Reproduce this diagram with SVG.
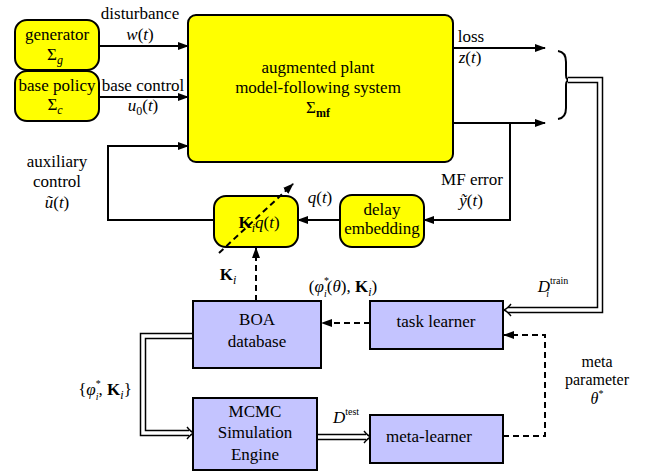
<svg xmlns="http://www.w3.org/2000/svg" width="650" height="472" viewBox="0 0 650 472">
  <defs>
    <marker id="arr" markerUnits="userSpaceOnUse" markerWidth="11" markerHeight="8" refX="10" refY="4" orient="auto">
      <path d="M0,0 L11,4 L0,8 z" fill="#000"/>
    </marker>
  </defs>

  <!-- signal and data connectors -->
  <g id="connectors" fill="none" stroke="#000" stroke-width="2">
    <g marker-end="url(#arr)">
      <line x1="99" y1="46" x2="188" y2="46"/>
      <line x1="99" y1="97" x2="188" y2="97"/>
      <polyline points="214,220 108,220 108,146 188,146"/>
      <line x1="453" y1="48" x2="545" y2="48"/>
      <line x1="453" y1="123" x2="545" y2="123"/>
      <polyline points="510,123 510,220 424,220"/>
      <line x1="340" y1="220" x2="298" y2="220"/>
    </g>
    <!-- brace collecting the plant outputs -->
    <path d="M558,51 Q566,52 566,62 L566,75 Q566,80 570,80 Q566,80 566,85 L566,108 Q566,118 558,119"/>
    <!-- dashed parameter links -->
    <g stroke-dasharray="6 4" marker-end="url(#arr)">
      <line x1="256" y1="301" x2="256" y2="248"/>
      <line x1="370" y1="323" x2="322" y2="323"/>
      <polyline points="503,436 545,436 545,335 504,335"/>
    </g>
    <!-- double data lines: black outline, white core -->
    <g stroke-width="6.5">
      <polyline points="568,80 600,80 600,310 508,310"/>
      <polyline points="193,336 143,336 143,433 189,433"/>
      <line x1="317" y1="437" x2="366" y2="437"/>
    </g>
    <g stroke="#fff" stroke-width="3.5">
      <polyline points="568,80 600,80 600,310 506,310"/>
      <polyline points="194,336 143,336 143,433 191,433"/>
      <line x1="316" y1="437" x2="368" y2="437"/>
    </g>
    <g stroke-width="1.4">
      <path d="M511,304 Q507,309 504,310 Q507,311 511,316"/>
      <path d="M187,427 Q191,432 194,433 Q191,434 187,439"/>
      <path d="M364,431 Q368,436 371,437 Q368,438 364,443"/>
    </g>
  </g>

  <g id="generator" text-anchor="middle">
    <rect fill="#ffff00" stroke="#000" stroke-width="2" x="15" y="20" width="84" height="50" rx="12"/>
    <text font-family="Liberation Serif, DejaVu Serif, serif" font-size="17" x="57" y="40">generator</text>
    <text font-family="Liberation Serif, DejaVu Serif, serif" font-size="17" x="55" y="60">Σ<tspan font-style="italic" font-size="12" dy="4">g</tspan></text>
  </g>

  <g id="base-policy" text-anchor="middle">
    <rect fill="#ffff00" stroke="#000" stroke-width="2" x="15" y="71" width="84" height="50" rx="12"/>
    <text font-family="Liberation Serif, DejaVu Serif, serif" font-size="17" x="57" y="91">base policy</text>
    <text font-family="Liberation Serif, DejaVu Serif, serif" font-size="17" x="55" y="110">Σ<tspan font-style="italic" font-size="12" dy="4">c</tspan></text>
  </g>

  <g id="plant" text-anchor="middle">
    <rect fill="#ffff00" stroke="#000" stroke-width="2" x="188" y="15" width="265" height="147" rx="8"/>
    <text font-family="Liberation Serif, DejaVu Serif, serif" font-size="17" x="318" y="73">augmented plant</text>
    <text font-family="Liberation Serif, DejaVu Serif, serif" font-size="17" x="318" y="93">model-following system</text>
    <text font-family="Liberation Serif, DejaVu Serif, serif" font-size="17" x="318" y="113">Σ<tspan font-size="12" font-weight="bold" dy="4">mf</tspan></text>
  </g>

  <g id="delay-embedding" text-anchor="middle">
    <rect fill="#ffff00" stroke="#000" stroke-width="2" x="340" y="195" width="84" height="52" rx="12"/>
    <text font-family="Liberation Serif, DejaVu Serif, serif" font-size="17" x="382" y="215">delay</text>
    <text font-family="Liberation Serif, DejaVu Serif, serif" font-size="17" x="382" y="234">embedding</text>
  </g>

  <g id="controller" text-anchor="middle">
    <rect fill="#ffff00" stroke="#000" stroke-width="2" x="214" y="196" width="84" height="51" rx="12"/>
    <text font-family="Liberation Serif, DejaVu Serif, serif" font-size="17" x="259" y="228"><tspan font-weight="bold">K</tspan><tspan font-style="italic" font-size="12" dy="4">i</tspan><tspan font-style="italic" dy="-4">q</tspan>(<tspan font-style="italic">t</tspan>)</text>
  </g>

  <!-- switching gain drawn across the controller -->
  <g id="gain-switch" fill="none" stroke="#000" stroke-width="2" stroke-dasharray="6 4">
    <line x1="219" y1="253" x2="293" y2="184" marker-end="url(#arr)"/>
  </g>

  <g id="boa-database" text-anchor="middle">
    <rect fill="#c4c4ff" stroke="#000" stroke-width="2" x="193" y="301" width="128" height="67"/>
    <text font-family="Liberation Serif, DejaVu Serif, serif" font-size="17" x="257" y="325">BOA</text>
    <text font-family="Liberation Serif, DejaVu Serif, serif" font-size="17" x="257" y="347">database</text>
  </g>

  <g id="task-learner" text-anchor="middle">
    <rect fill="#c4c4ff" stroke="#000" stroke-width="2" x="370" y="301" width="133" height="48"/>
    <text font-family="Liberation Serif, DejaVu Serif, serif" font-size="17" x="436" y="327">task learner</text>
  </g>

  <g id="mcmc-engine" text-anchor="middle">
    <rect fill="#c4c4ff" stroke="#000" stroke-width="2" x="193" y="398" width="124" height="72"/>
    <text font-family="Liberation Serif, DejaVu Serif, serif" font-size="17" x="255" y="417">MCMC</text>
    <text font-family="Liberation Serif, DejaVu Serif, serif" font-size="17" x="255" y="438">Simulation</text>
    <text font-family="Liberation Serif, DejaVu Serif, serif" font-size="17" x="255" y="460">Engine</text>
  </g>

  <g id="meta-learner" text-anchor="middle">
    <rect fill="#c4c4ff" stroke="#000" stroke-width="2" x="370" y="415" width="133" height="48"/>
    <text font-family="Liberation Serif, DejaVu Serif, serif" font-size="17" x="429" y="442">meta-learner</text>
  </g>

  <!-- connector labels -->
  <g id="labels" text-anchor="middle">
    <text font-family="Liberation Serif, DejaVu Serif, serif" font-size="17" x="140" y="19">disturbance</text>
    <text font-family="Liberation Serif, DejaVu Serif, serif" font-size="17" x="140" y="40"><tspan font-style="italic">w</tspan>(<tspan font-style="italic">t</tspan>)</text>
    <text font-family="Liberation Serif, DejaVu Serif, serif" font-size="17" x="143" y="91">base control</text>
    <text font-family="Liberation Serif, DejaVu Serif, serif" font-size="17" x="143" y="111"><tspan font-style="italic">u</tspan><tspan font-size="12" dy="4">0</tspan><tspan dy="-4">(</tspan><tspan font-style="italic">t</tspan>)</text>
    <text font-family="Liberation Serif, DejaVu Serif, serif" font-size="17" x="471" y="42">loss</text>
    <text font-family="Liberation Serif, DejaVu Serif, serif" font-size="17" x="470" y="63"><tspan font-style="italic">z</tspan>(<tspan font-style="italic">t</tspan>)</text>
    <text font-family="Liberation Serif, DejaVu Serif, serif" font-size="17" x="472" y="185">MF error</text>
    <text font-family="Liberation Serif, DejaVu Serif, serif" font-size="17" x="471" y="206"><tspan font-style="italic">ỹ</tspan>(<tspan font-style="italic">t</tspan>)</text>
    <text font-family="Liberation Serif, DejaVu Serif, serif" font-size="17" x="320" y="203"><tspan font-style="italic">q</tspan>(<tspan font-style="italic">t</tspan>)</text>
    <text font-family="Liberation Serif, DejaVu Serif, serif" font-size="17" x="57" y="167">auxiliary</text>
    <text font-family="Liberation Serif, DejaVu Serif, serif" font-size="17" x="57" y="187">control</text>
    <text font-family="Liberation Serif, DejaVu Serif, serif" font-size="17" x="57" y="208"><tspan font-style="italic">ũ</tspan>(<tspan font-style="italic">t</tspan>)</text>
    <text font-family="Liberation Serif, DejaVu Serif, serif" font-size="17" x="228" y="280"><tspan font-weight="bold">K</tspan><tspan font-style="italic" font-size="12" dy="4">i</tspan></text>
    <text font-family="Liberation Serif, DejaVu Serif, serif" font-size="17" x="343" y="292">(<tspan font-style="italic">φ</tspan><tspan font-size="10" dy="-8">*</tspan><tspan font-style="italic" font-size="10" dx="-5" dy="13">i</tspan><tspan dy="-5">(</tspan><tspan font-style="italic">θ</tspan>), <tspan font-weight="bold">K</tspan><tspan font-style="italic" font-size="12" dy="4">i</tspan><tspan dy="-4">)</tspan></text>
    <text font-family="Liberation Serif, DejaVu Serif, serif" font-size="17" x="553" y="292"><tspan font-style="italic">D</tspan><tspan font-size="10" dy="-8">train</tspan><tspan font-style="italic" font-size="10" dx="-22" dy="13">i</tspan></text>
    <text font-family="Liberation Serif, DejaVu Serif, serif" font-size="17" x="105" y="395">{<tspan font-style="italic">φ</tspan><tspan font-size="10" dy="-8">*</tspan><tspan font-style="italic" font-size="10" dx="-5" dy="13">i</tspan><tspan dy="-5">, </tspan><tspan font-weight="bold">K</tspan><tspan font-style="italic" font-size="12" dy="4">i</tspan><tspan dy="-4">}</tspan></text>
    <text font-family="Liberation Serif, DejaVu Serif, serif" font-size="17" x="346" y="423"><tspan font-style="italic">D</tspan><tspan font-size="10" dy="-8">test</tspan></text>
    <text font-family="Liberation Serif, DejaVu Serif, serif" font-size="16" x="597" y="367">meta</text>
    <text font-family="Liberation Serif, DejaVu Serif, serif" font-size="16" x="597" y="385">parameter</text>
    <text font-family="Liberation Serif, DejaVu Serif, serif" font-size="16" x="597" y="404"><tspan font-style="italic">θ</tspan><tspan font-size="10" dy="-7">*</tspan></text>
  </g>
</svg>
